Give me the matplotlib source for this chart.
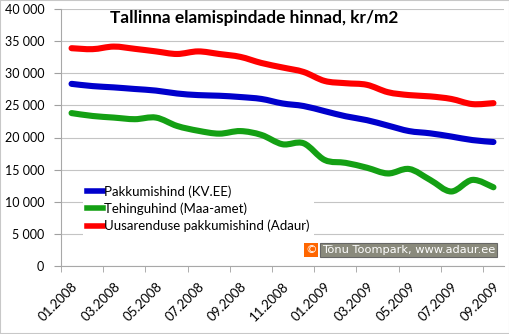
import matplotlib.pyplot as plt
from matplotlib.patches import Rectangle, PathPatch
from matplotlib.path import Path
from matplotlib.lines import Line2D
from matplotlib.ticker import FuncFormatter, FixedLocator

# months 01.2008 .. 09.2009
months = ['01.2008', '02.2008', '03.2008', '04.2008', '05.2008', '06.2008', '07.2008',
          '08.2008', '09.2008', '10.2008', '11.2008', '12.2008', '01.2009', '02.2009',
          '03.2009', '04.2009', '05.2009', '06.2009', '07.2009', '08.2009', '09.2009']

# kr/m2
kv_ee = [28350, 28000, 27800, 27550, 27300, 26850, 26600, 26500, 26300, 26000, 25300,
         24900, 24100, 23300, 22700, 21850, 21000, 20650, 20150, 19600, 19300]
maa_amet = [23800, 23350, 23100, 22850, 23100, 21800, 21050, 20600, 21000, 20400, 18950,
            19100, 16500, 16050, 15300, 14400, 15100, 13400, 11600, 13400, 12250]
adaur = [33900, 33750, 34150, 33800, 33400, 33000, 33400, 33000, 32550, 31600, 30900,
         30200, 28800, 28450, 28200, 27050, 26600, 26400, 26000, 25200, 25350]

labels = ['Pakkumishind (KV.EE)', 'Tehinguhind (Maa-amet)', 'Uusarenduse pakkumishind (Adaur)']
colors = ['#0000CC', '#14A014', '#FF0000']


def smooth_path(xs, ys):
    # excel style smoothed line: bezier segments through the data points
    n = len(xs)
    verts = [(xs[0], ys[0])]
    codes = [Path.MOVETO]
    for i in range(n - 1):
        a = max(i - 1, 0)
        d = min(i + 2, n - 1)
        c1 = (xs[i] + (xs[i + 1] - xs[a]) / 6, ys[i] + (ys[i + 1] - ys[a]) / 6)
        c2 = (xs[i + 1] - (xs[d] - xs[i]) / 6, ys[i + 1] - (ys[d] - ys[i]) / 6)
        verts += [c1, c2, (xs[i + 1], ys[i + 1])]
        codes += [Path.CURVE4] * 3
    return Path(verts, codes)


plt.rcParams['font.family'] = ['Lato', 'DejaVu Sans']

fig = plt.figure(figsize=(5.10, 3.34), dpi=100)
ax = fig.add_axes([61 / 510, 68 / 334, 443 / 510, 257 / 334])

x = list(range(len(months)))
handles = []
for ys, lab, col in zip([kv_ee, maa_amet, adaur], labels, colors):
    ax.add_patch(PathPatch(smooth_path(x, ys), fill=False, edgecolor=col, lw=4.4,
                           capstyle='round', joinstyle='round'))
    handles.append(Line2D([], [], color=col, lw=4, label=lab))

ax.set_xlim(-0.5, len(months) - 0.5)
ax.set_ylim(0, 40000)
ax.set_yticks(range(0, 40001, 5000))
ax.yaxis.set_major_formatter(FuncFormatter(lambda v, p: f'{int(v):,}'.replace(',', ' ')))
ax.grid(axis='y', color='#c4c4c4', lw=0.8)
ax.set_axisbelow(True)

# labels at every second month, tick marks on category borders
ax.set_xticks(x[::2])
ax.set_xticklabels(months[::2], rotation=45, ha='right', va='top', rotation_mode='anchor')
ax.xaxis.set_minor_locator(FixedLocator([i - 0.5 for i in x[::2]]))
ax.tick_params(axis='x', which='major', length=0, pad=10, labelsize=9.5)
ax.tick_params(axis='x', which='minor', length=4, color='#a0a0a0')
ax.tick_params(axis='y', length=5, color='#a0a0a0', pad=7, labelsize=9)

for s in ['top', 'right']:
    ax.spines[s].set_visible(False)
for s in ['left', 'bottom']:
    ax.spines[s].set_color('#a8a8a8')
    ax.spines[s].set_linewidth(0.8)

ax.text(0.437, 0.965, 'Tallinna elamispindade hinnad, kr/m2', transform=ax.transAxes,
        ha='center', va='center', fontsize=12.4, fontweight='bold')

leg = ax.legend(handles=handles, loc='upper left', bbox_to_anchor=(0.035, 0.355),
                fontsize=9.5, frameon=True, fancybox=False, edgecolor='none',
                facecolor='white', framealpha=1, handlelength=1.2, handletextpad=0.1,
                labelspacing=0.35, borderpad=0.3)

# copyright label
fig.text(322 / 510, 84 / 334, 'Tõnu Toompark, www.adaur.ee', ha='left', va='center',
         fontsize=8.2, color='white', family='DejaVu Sans',
         bbox=dict(boxstyle='square,pad=0.15', facecolor='#8a8a7c', edgecolor='#666666', lw=0.8))
fig.text(311 / 510, 84 / 334, '©', ha='center', va='center', fontsize=8.2, color='white',
         family='DejaVu Sans',
         bbox=dict(boxstyle='square,pad=0.15', facecolor='#FF6600', edgecolor='none'))

fig.patches.append(Rectangle((0, 0), 1, 1, transform=fig.transFigure, fill=False,
                             edgecolor='#c8c8c8', lw=1.5))

fig.savefig('out.png', dpi=100)
